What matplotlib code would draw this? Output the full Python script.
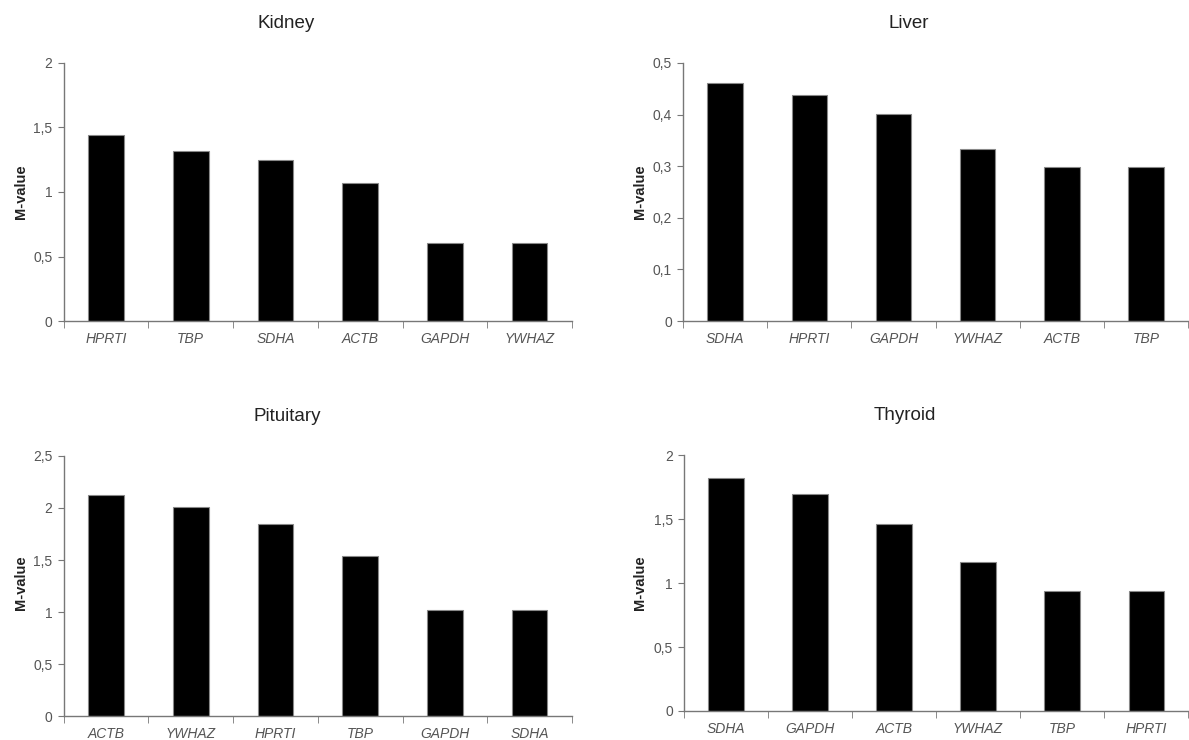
import matplotlib
matplotlib.use('Agg')
from matplotlib import pyplot as plt
from matplotlib.ticker import FixedLocator

plt.rcParams['font.family'] = ['Liberation Sans', 'DejaVu Sans']

# Kidney
kidney_genes = ['HPRTI', 'TBP', 'SDHA', 'ACTB', 'GAPDH', 'YWHAZ']
kidney_m = [1.443, 1.314, 1.246, 1.073, 0.608, 0.608]
kidney_yticks = [0, 0.5, 1, 1.5, 2]
kidney_ylabels = ['0', '0,5', '1', '1,5', '2']

# Liver
liver_genes = ['SDHA', 'HPRTI', 'GAPDH', 'YWHAZ', 'ACTB', 'TBP']
liver_m = [0.461, 0.438, 0.401, 0.334, 0.299, 0.299]
liver_yticks = [0, 0.1, 0.2, 0.3, 0.4, 0.5]
liver_ylabels = ['0', '0,1', '0,2', '0,3', '0,4', '0,5']

# Pituitary
pit_genes = ['ACTB', 'YWHAZ', 'HPRTI', 'TBP', 'GAPDH', 'SDHA']
pit_m = [2.125, 2.006, 1.849, 1.540, 1.017, 1.017]
pit_yticks = [0, 0.5, 1, 1.5, 2, 2.5]
pit_ylabels = ['0', '0,5', '1', '1,5', '2', '2,5']

# Thyroid
thy_genes = ['SDHA', 'GAPDH', 'ACTB', 'YWHAZ', 'TBP', 'HPRTI']
thy_m = [1.818, 1.698, 1.462, 1.163, 0.936, 0.936]
thy_yticks = [0, 0.5, 1, 1.5, 2]
thy_ylabels = ['0', '0,5', '1', '1,5', '2']

fig = plt.figure(figsize=(11.89, 7.4), dpi=100)

panels = [
    ('Kidney', kidney_genes, kidney_m, kidney_yticks, kidney_ylabels,
     [0.0535, 0.5662, 0.4276, 0.3487], (0.241, 0.968), (0.018, 0.741)),
    ('Liver', liver_genes, liver_m, liver_yticks, liver_ylabels,
     [0.5744, 0.5662, 0.4250, 0.3487], (0.764, 0.968), (0.538, 0.741)),
    ('Pituitary', pit_genes, pit_m, pit_yticks, pit_ylabels,
     [0.0535, 0.0324, 0.4276, 0.3514], (0.242, 0.4365), (0.018, 0.212)),
    ('Thyroid', thy_genes, thy_m, thy_yticks, thy_ylabels,
     [0.5753, 0.0392, 0.4240, 0.3459], (0.761, 0.439), (0.538, 0.212)),
]

axis_col = '#777777'
text_col = '#555555'

for title, genes, vals, yt, ytl, rect, tpos, lpos in panels:
    ax = fig.add_axes(rect)
    x = range(len(genes))
    ax.bar(x, vals, width=0.42, color='black', edgecolor='#888888', linewidth=0.8)
    ax.set_xlim(-0.5, len(genes) - 0.5)
    ax.set_ylim(0, yt[-1])
    ax.set_yticks(yt)
    ax.set_yticklabels(ytl)
    ax.set_xticks(list(x))
    ax.set_xticklabels(genes, style='italic')
    ax.xaxis.set_minor_locator(FixedLocator([i - 0.5 for i in range(len(genes) + 1)]))
    ax.tick_params(axis='x', which='major', length=0, pad=8, labelsize=10, labelcolor=text_col)
    ax.tick_params(axis='x', which='minor', length=5, direction='out', color=axis_col)
    ax.tick_params(axis='y', length=4, direction='out', pad=4, labelsize=10,
                   labelcolor=text_col, color=axis_col)
    for side in ['top', 'right']:
        ax.spines[side].set_visible(False)
    for side in ['left', 'bottom']:
        ax.spines[side].set_color(axis_col)
        ax.spines[side].set_linewidth(1.0)
    fig.text(tpos[0], tpos[1], title, ha='center', va='center', fontsize=13.5, color='#222222')
    fig.text(lpos[0], lpos[1], 'M-value', ha='center', va='center', rotation=90,
             fontsize=10.5, fontweight='bold', color='#222222')

fig.savefig('out.png', dpi=100)
